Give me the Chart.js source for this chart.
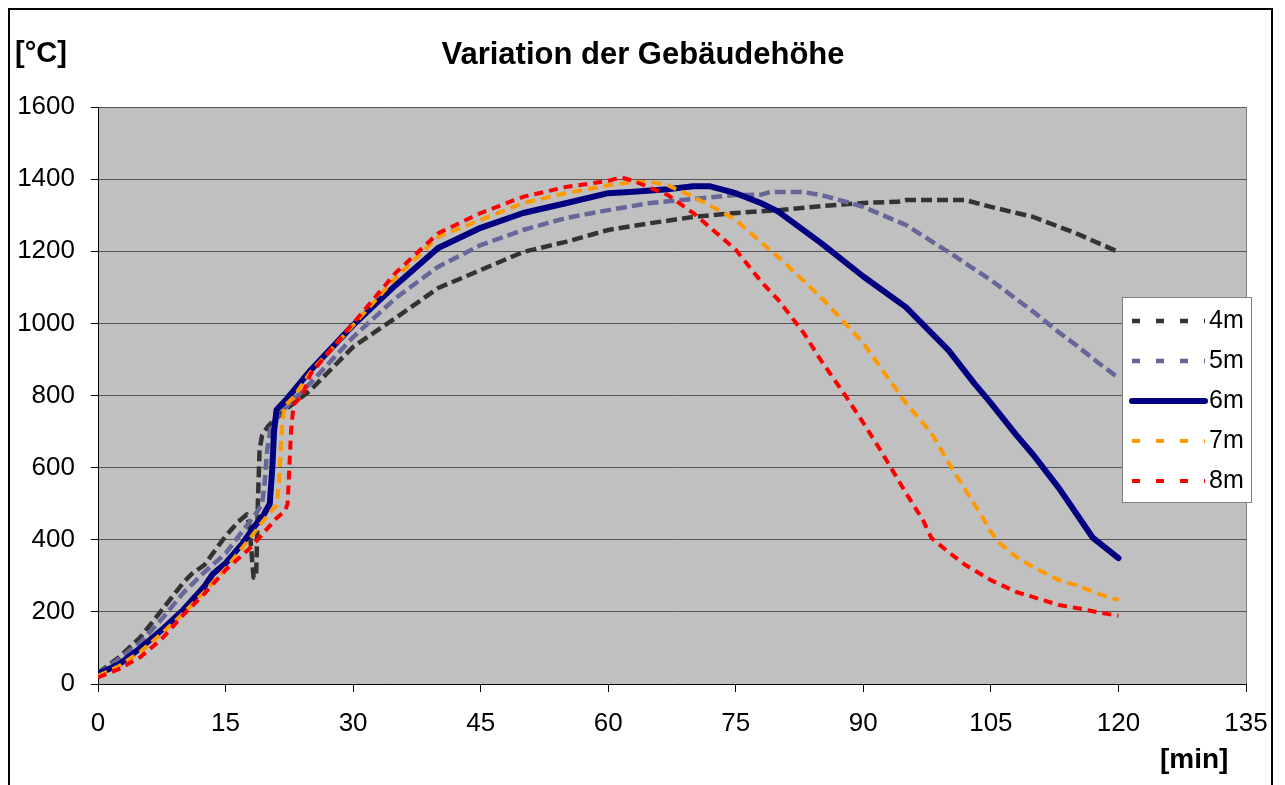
<!DOCTYPE html>
<html lang="de">
<head>
  <meta charset="UTF-8">
  <title>Variation der Gebäudehöhe</title>
  <script src="https://cdn.jsdelivr.net/npm/chart.js"></script>
  <style>
    body { margin: 0; background: #fff; }
    #chartBox { width: 1285px; height: 785px; }
  </style>
</head>
<body>
  <div id="chartBox">
    <canvas id="fireChart" width="1285" height="785"></canvas>
  </div>

  <script>
    // time [min] and temperature [°C] per building height
    const t4m = [0, 2.5, 5, 7.5, 10, 11, 12.5, 15, 16.5, 17.5, 17.8, 18.0, 18.3, 18.6, 18.8, 19.0, 19.3, 20, 22, 25, 30, 35, 40, 45, 50, 55, 60, 65, 70, 75, 80, 85, 90, 94, 95, 100, 102, 105, 110, 115, 120];
    const T4m = [30, 75, 130, 205, 280, 305, 330, 410, 450, 470, 440, 380, 295, 300, 500, 650, 690, 715, 760, 815, 935, 1015, 1098, 1148, 1198, 1226, 1259, 1278, 1295, 1306, 1314, 1325, 1334, 1337, 1342, 1342, 1342, 1323, 1295, 1250, 1198];

    const t5m = [0, 2.5, 5, 7.5, 10, 12.5, 15, 17.5, 18.5, 19.3, 19.6, 19.9, 20.3, 21, 22, 25, 30, 35, 40, 45, 50, 55, 60, 65, 70, 75, 78, 79, 83, 85, 88, 90, 95, 100, 105, 110, 113, 115, 117.5, 120];
    const T5m = [28, 70, 116, 180, 252, 310, 362, 440, 470, 500, 560, 650, 710, 740, 765, 835, 962, 1070, 1157, 1217, 1259, 1292, 1314, 1334, 1345, 1356, 1357, 1364, 1364, 1356, 1337, 1323, 1273, 1198, 1120, 1032, 975, 940, 893, 849];

    const t6m = [0, 2.5, 5, 7.5, 10, 12.5, 13.5, 15, 17, 18.5, 19.5, 20.2, 20.5, 20.7, 21, 22, 25, 30, 35, 40, 45, 50, 55, 60, 63, 67, 70, 72, 75, 78, 80, 85, 90, 95, 100, 103, 105, 108, 110, 113, 115, 117, 120];
    const T6m = [28, 55, 100, 150, 205, 270, 305, 335, 390, 440, 470, 500, 600, 700, 760, 785, 870, 995, 1106, 1209, 1265, 1306, 1333, 1361, 1365, 1372, 1380, 1380, 1361, 1333, 1310, 1223, 1130, 1045, 926, 835, 779, 690, 635, 543, 474, 405, 349];

    const t7m = [0, 2.5, 5, 7.5, 10, 12.5, 15, 18, 20, 21, 21.3, 21.6, 21.9, 23, 25, 30, 35, 40, 45, 50, 55, 60, 63, 65, 67, 70, 73, 75, 77, 80, 85, 90, 95, 98, 100, 102, 104, 105, 106, 108, 110, 113, 115, 118, 120];
    const T7m = [22, 50, 90, 140, 195, 255, 320, 408, 470, 495, 560, 700, 770, 795, 865, 995, 1126, 1240, 1287, 1334, 1361, 1383, 1392, 1392, 1383, 1351, 1314, 1287, 1245, 1184, 1073, 945, 779, 696, 615, 538, 463, 422, 391, 352, 324, 288, 274, 247, 233];

    const t8m = [0, 2.5, 5, 7.5, 10, 12.5, 15, 17, 18, 19.5, 21, 22, 22.3, 22.5, 22.7, 23, 24, 25, 30, 35, 40, 45, 50, 55, 60, 61.5, 63, 65, 67, 70, 73, 75, 78, 80, 83, 85, 88, 90, 92, 95, 97, 98, 100, 102, 105, 108, 110, 113, 115, 118, 120];
    const T8m = [18, 42, 75, 125, 191, 250, 316, 358, 380, 420, 460, 480, 500, 600, 700, 775, 800, 860, 1000, 1140, 1250, 1306, 1351, 1378, 1395, 1405, 1395, 1375, 1356, 1306, 1245, 1204, 1115, 1065, 973, 898, 796, 724, 649, 530, 455, 405, 366, 330, 288, 255, 241, 219, 211, 197, 189];

    const seriesLabels = ['4m', '5m', '6m', '7m', '8m'];

    const FONT = "'Liberation Sans', Arial, sans-serif";

    function toPoints(ts, vals) {
      return ts.map((t, i) => ({ x: t, y: vals[i] }));
    }

    // background, frame and texts
    const decoPlugin = {
      id: 'deco',
      beforeDraw: (chart) => {
        const ctx = chart.ctx;
        const a = chart.chartArea;
        ctx.save();
        ctx.fillStyle = '#ffffff';
        ctx.fillRect(0, 0, chart.width, chart.height);
        ctx.fillStyle = '#c0c0c0';
        ctx.fillRect(a.left, a.top, a.right - a.left, a.bottom - a.top);
        ctx.strokeStyle = '#000';
        ctx.lineWidth = 2;
        ctx.strokeRect(9, 9, 1263, 820);
        ctx.restore();
      },
      beforeDatasetsDraw: (chart) => {
        const ctx = chart.ctx;
        const a = chart.chartArea;
        ctx.save();
        ctx.strokeStyle = '#808080';
        ctx.lineWidth = 1;
        ctx.beginPath();
        ctx.moveTo(a.right + 0.5, a.top);
        ctx.lineTo(a.right + 0.5, a.bottom);
        ctx.stroke();
        ctx.restore();
      },
      afterDraw: (chart) => {
        const ctx = chart.ctx;
        ctx.save();
        ctx.fillStyle = '#000';
        ctx.textBaseline = 'middle';
        ctx.textAlign = 'center';
        ctx.font = 'bold 31px ' + FONT;
        ctx.fillText('Variation der Gebäudehöhe', 643, 55);
        ctx.textAlign = 'left';
        ctx.font = 'bold 29px ' + FONT;
        ctx.fillText('[°C]', 15, 54);
        ctx.font = 'bold 28px ' + FONT;
        ctx.fillText('[min]', 1160, 760);

        // legend box
        const lx = 1122, ly = 297, lw = 129, lh = 205;
        ctx.fillStyle = '#fff';
        ctx.fillRect(lx, ly, lw, lh);
        ctx.strokeStyle = '#808080';
        ctx.lineWidth = 1;
        ctx.strokeRect(lx + 0.5, ly + 0.5, lw, lh);
        chart.data.datasets.forEach((ds, i) => {
          const y = 321 + i * 40;
          ctx.beginPath();
          ctx.strokeStyle = ds.borderColor;
          ctx.lineWidth = ds.borderWidth;
          ctx.setLineDash(ds.legendDash);
          ctx.lineCap = ds.borderDash.length ? 'butt' : 'round';
          ctx.moveTo(1132, y);
          ctx.lineTo(1205, y);
          ctx.stroke();
          ctx.setLineDash([]);
          ctx.fillStyle = '#000';
          ctx.font = '25px ' + FONT;
          ctx.textAlign = 'left';
          ctx.fillText(ds.label, 1209, y);
        });
        ctx.restore();
      }
    };

    const ctx = document.getElementById('fireChart').getContext('2d');
    new Chart(ctx, {
      type: 'line',
      data: {
        datasets: [
          { label: seriesLabels[0], data: toPoints(t4m, T4m), borderColor: '#333333', borderWidth: 4.5, borderDash: [11, 5], legendDash: [8, 16], order: 5 },
          { label: seriesLabels[1], data: toPoints(t5m, T5m), borderColor: '#666699', borderWidth: 4.5, borderDash: [11, 5], legendDash: [8, 16], order: 4 },
          { label: seriesLabels[2], data: toPoints(t6m, T6m), borderColor: '#000080', borderWidth: 6, borderDash: [], legendDash: [], borderCapStyle: 'round', order: 3 },
          { label: seriesLabels[3], data: toPoints(t7m, T7m), borderColor: '#ff9900', borderWidth: 4, borderDash: [10, 6], legendDash: [8, 16], order: 2 },
          { label: seriesLabels[4], data: toPoints(t8m, T8m), borderColor: '#ff0000', borderWidth: 4, borderDash: [9, 6], legendDash: [8, 16], order: 1 }
        ]
      },
      options: {
        responsive: false,
        animation: false,
        elements: {
          point: { radius: 0 },
          line: { tension: 0, fill: false, borderJoinStyle: 'round' }
        },
        layout: { padding: { left: 0, top: 107, right: 39, bottom: 0 } },
        plugins: {
          legend: { display: false },
          title: { display: false },
          tooltip: { enabled: false }
        },
        scales: {
          x: {
            type: 'linear',
            min: 0,
            max: 135,
            ticks: { stepSize: 15, color: '#000', font: { family: FONT, size: 26 }, padding: 16, maxRotation: 0 },
            grid: { drawOnChartArea: false, drawTicks: true, tickLength: 8, tickColor: '#000' },
            border: { color: '#000', width: 1 },
            afterFit: (s) => { s.height = 101; }
          },
          y: {
            min: 0,
            max: 1600,
            ticks: { stepSize: 200, color: '#000', font: { family: FONT, size: 26 }, padding: 16, callback: (v) => String(v) },
            grid: { color: '#555555', tickColor: '#000', tickLength: 7 },
            border: { color: '#000', width: 1 },
            afterFit: (s) => { s.width = 98; }
          }
        }
      },
      plugins: [decoPlugin]
    });
  </script>
</body>
</html>
